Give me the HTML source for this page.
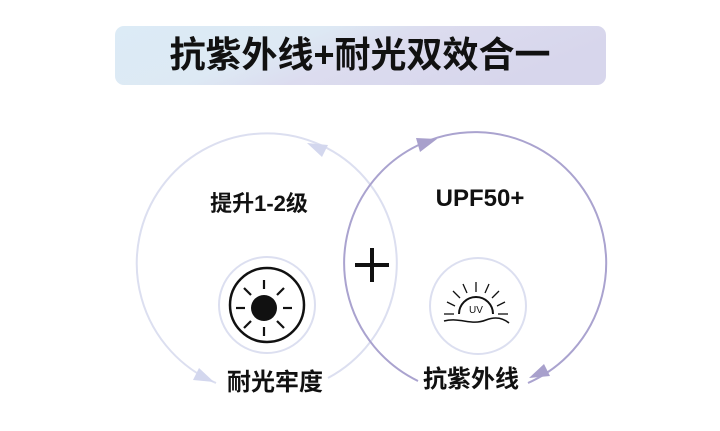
<!DOCTYPE html>
<html><head><meta charset="utf-8"><style>
body{margin:0;width:720px;height:426px;background:#fff;overflow:hidden;font-family:"Liberation Sans","Noto Sans CJK SC",sans-serif}
</style></head><body>
<svg width="720" height="426" viewBox="0 0 720 426" xmlns="http://www.w3.org/2000/svg" font-family="Liberation Sans,'Noto Sans CJK SC',sans-serif">
<defs>
<linearGradient id="g" x1="0" y1="0" x2="1" y2="0.3">
<stop offset="0" stop-color="#dcebf6"/><stop offset="0.4" stop-color="#dde9f4"/><stop offset="0.6" stop-color="#dcdcef"/><stop offset="1" stop-color="#d7d6ec"/></linearGradient>
</defs>
<rect x="115" y="26" width="491" height="59" rx="9" fill="url(#g)"/>
<text x="360" y="67" text-anchor="middle" font-size="36" font-weight="bold" fill="#111">抗紫外线+耐光双效合一</text>

<path d="M328,378 A130,130 0 1 0 216,383" fill="none" stroke="#dcdff0" stroke-width="2"/>
<path d="M528,383 A131,131 0 1 0 418,381" fill="none" stroke="#aaa3cf" stroke-width="2"/>
<polygon points="307,143 328,145 322,157" fill="#d3d7ee"/>
<polygon points="214,382 199,368 193,380" fill="#d3d7ee"/>
<polygon points="437,139 420,152 416,138" fill="#a8a0cc"/>
<polygon points="529,378 550,376 544,364" fill="#a8a0cc"/>

<line x1="355" y1="265" x2="389" y2="265" stroke="#111" stroke-width="4"/>
<line x1="372" y1="248" x2="372" y2="282" stroke="#111" stroke-width="4"/>

<text x="259" y="211" text-anchor="middle" font-size="22" font-weight="bold" fill="#111">提升1-2级</text>
<text x="480" y="206" text-anchor="middle" font-size="24" font-weight="bold" fill="#111">UPF50+</text>
<text x="275" y="390" text-anchor="middle" font-size="24" font-weight="bold" fill="#111">耐光牢度</text>
<text x="471" y="387" text-anchor="middle" font-size="24" font-weight="bold" fill="#111">抗紫外线</text>

<circle cx="267" cy="305" r="48" fill="#fff" stroke="#dcdff0" stroke-width="2"/>
<circle cx="267" cy="305" r="37" fill="none" stroke="#111" stroke-width="2.5"/>
<circle cx="264" cy="308" r="13" fill="#111"/>
<g stroke="#111" stroke-width="2.2" transform="translate(264,308)">
<line x1="0" y1="-19" x2="0" y2="-28"/><line x1="0" y1="19" x2="0" y2="28"/>
<line x1="-19" y1="0" x2="-28" y2="0"/><line x1="19" y1="0" x2="28" y2="0"/>
<line x1="13" y1="-13" x2="20" y2="-20"/><line x1="-13" y1="-13" x2="-20" y2="-20"/>
<line x1="13" y1="13" x2="20" y2="20"/><line x1="-13" y1="13" x2="-20" y2="20"/>
</g>

<circle cx="478" cy="306" r="48" fill="#fff" stroke="#dcdff0" stroke-width="2"/>
<g transform="translate(476,314)" stroke="#111" fill="none">
<path d="M-17,0 A17,17 0 0 1 17,0" stroke-width="2"/>
<g stroke-width="1.3">
<line x1="0" y1="-22" x2="0" y2="-32"/>
<line x1="-9" y1="-21" x2="-13" y2="-30"/><line x1="9" y1="-21" x2="13" y2="-30"/>
<line x1="-16" y1="-16" x2="-23" y2="-23"/><line x1="16" y1="-16" x2="23" y2="-23"/>
<line x1="-21" y1="-8" x2="-29" y2="-12"/><line x1="21" y1="-8" x2="29" y2="-12"/>
<line x1="-22" y1="0" x2="-32" y2="0"/><line x1="22" y1="0" x2="32" y2="0"/>
</g>
<path d="M-32,7 C-15,3 -5,12 10,6 C20,2 27,4 33,9" stroke-width="1.5"/>
</g>
<text x="476" y="313" text-anchor="middle" font-size="10" fill="#111">UV</text>
</svg>
</body></html>
